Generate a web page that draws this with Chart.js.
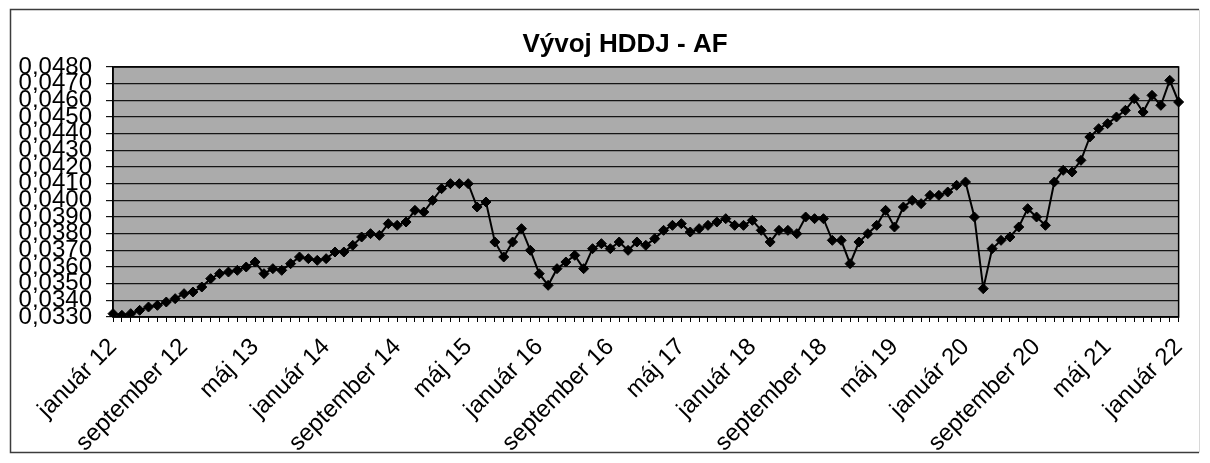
<!DOCTYPE html>
<html>
<head>
<meta charset="utf-8">
<script src="https://cdn.jsdelivr.net/npm/chart.js@4/dist/chart.umd.min.js"></script>
<style>
  html, body { margin: 0; padding: 0; background: #ffffff; }
  #wrap { width: 1210px; height: 463px; position: relative; }
</style>
</head>
<body>
<div id="wrap"><canvas id="c" width="1210" height="463"></canvas></div>
<script>
// ---- data ----
const chartTitle = 'Vývoj HDDJ - AF';
const monthNames = ['január','február','marec','apríl','máj','jún','júl','august','september','október','november','december'];
const years = ['12','13','14','15','16','17','18','19','20','21','22'];
const tickLabels = ['január 12','september 12','máj 13','január 14','september 14','máj 15','január 16','september 16','máj 17','január 18','september 18','máj 19','január 20','september 20','máj 21','január 22'];
const yTickValues = [0.0330,0.0340,0.0350,0.0360,0.0370,0.0380,0.0390,0.0400,0.0410,0.0420,0.0430,0.0440,0.0450,0.0460,0.0470,0.0480];

// monthly values, január 12 – január 22
const values2012 = [0.0332,0.0331,0.0332,0.0334,0.0336,0.0337,0.0339,0.0341,0.0344,0.0345,0.0348,0.0353];
const values2013 = [0.0356,0.0357,0.0358,0.0360,0.0363,0.0356,0.0359,0.0358,0.0362,0.0366,0.0365,0.0364];
const values2014 = [0.0365,0.0369,0.0369,0.0373,0.0378,0.0380,0.0379,0.0386,0.0385,0.0387,0.0394,0.0393];
const values2015 = [0.0400,0.0407,0.0410,0.0410,0.0410,0.0396,0.0399,0.0375,0.0366,0.0375,0.0383,0.0370];
const values2016 = [0.0356,0.0349,0.0359,0.0363,0.0367,0.0359,0.0371,0.0374,0.0371,0.0375,0.0370,0.0375];
const values2017 = [0.0373,0.0377,0.0382,0.0385,0.0386,0.0381,0.0383,0.0385,0.0387,0.0389,0.0385,0.0385];
const values2018 = [0.0388,0.0382,0.0375,0.0382,0.0382,0.0380,0.0390,0.0389,0.0389,0.0376,0.0376,0.0362];
const values2019 = [0.0375,0.0380,0.0385,0.0394,0.0384,0.0396,0.0400,0.0398,0.0403,0.0403,0.0405,0.0409];
const values2020 = [0.0411,0.0390,0.0347,0.0371,0.0376,0.0378,0.0384,0.0395,0.0390,0.0385,0.0411,0.0418];
const values2021 = [0.0417,0.0424,0.0438,0.0443,0.0446,0.0450,0.0454,0.0461,0.0453,0.0463,0.0457,0.0472];
const values2022 = [0.0459];

const values = [].concat(values2012, values2013, values2014, values2015, values2016,
  values2017, values2018, values2019, values2020, values2021, values2022);

const categories = [];
years.forEach(y => monthNames.forEach(m => categories.push(m + ' ' + y)));
categories.length = values.length;

// ---- drawing helpers ----
const FONT = '"Liberation Sans", Arial, Helvetica, sans-serif';

const framePlugin = {
  id: 'frame',
  beforeDraw(chart) {
    const ctx = chart.ctx;
    const a = chart.chartArea;
    ctx.save();
    ctx.fillStyle = '#ffffff';
    ctx.fillRect(0, 0, chart.width, chart.height);
    // outer chart frame
    ctx.strokeStyle = '#3c3c3c';
    ctx.lineWidth = 1.5;
    ctx.beginPath();
    ctx.moveTo(1199, 9.5); ctx.lineTo(10.5, 9.5); ctx.lineTo(10.5, 452.5); ctx.lineTo(1199, 452.5);
    ctx.stroke();
    ctx.strokeStyle = '#d8d8d8';
    ctx.lineWidth = 1;
    ctx.beginPath();
    ctx.moveTo(1199.5, 9.5); ctx.lineTo(1199.5, 452.5);
    ctx.stroke();
    // plot area fill
    ctx.fillStyle = '#ababab';
    ctx.fillRect(a.left, a.top, a.right - a.left, a.bottom - a.top);
    // title
    ctx.fillStyle = '#000000';
    ctx.font = 'bold 26px ' + FONT;
    ctx.textAlign = 'center';
    ctx.textBaseline = 'middle';
    ctx.fillText(chartTitle, 625, 45);
    ctx.restore();
  },
  afterDatasetsDraw(chart) {
    const ctx = chart.ctx;
    const a = chart.chartArea;
    ctx.save();
    ctx.strokeStyle = '#000000';
    ctx.lineWidth = 1.5;
    ctx.strokeRect(a.left, a.top, a.right - a.left, a.bottom - a.top);
    ctx.restore();
  }
};

new Chart(document.getElementById('c'), {
  type: 'line',
  data: {
    labels: categories,
    datasets: [{
      data: values,
      borderColor: '#000000',
      borderWidth: 2,
      backgroundColor: '#000000',
      pointStyle: 'rectRot',
      pointRadius: 5,
      pointBorderWidth: 1,
      pointBorderColor: '#000000',
      pointBackgroundColor: '#000000',
      tension: 0,
      fill: false
    }]
  },
  options: {
    responsive: false,
    animation: false,
    devicePixelRatio: 1,
    layout: { padding: { top: 67, right: 19, bottom: 0, left: 0 } },
    plugins: {
      legend: { display: false },
      title: { display: false },
      tooltip: { enabled: false }
    },
    scales: {
      x: {
        type: 'category',
        offset: false,
        afterFit(scale) { scale.height = 146; },
        border: { display: true, color: '#000000', width: 1.5 },
        grid: { display: true, drawOnChartArea: false, drawTicks: true, tickLength: 5, color: '#000000', lineWidth: 1 },
        ticks: {
          autoSkip: false,
          maxRotation: 45,
          minRotation: 45,
          padding: 11,
          color: '#000000',
          font: { family: FONT, size: 24 },
          callback(val, idx) {
            const lab = categories[idx];
            return tickLabels.includes(lab) ? lab : '';
          }
        }
      },
      y: {
        type: 'linear',
        min: 0.033,
        max: 0.048,
        afterFit(scale) { scale.width = 113; },
        afterBuildTicks(scale) { scale.ticks = yTickValues.map(v => ({ value: v })); },
        border: { display: true, color: '#000000', width: 1.5 },
        grid: { display: true, drawOnChartArea: true, drawTicks: true, tickLength: 7, color: '#151515', lineWidth: 1.2 },
        ticks: {
          autoSkip: false,
          padding: 14,
          color: '#000000',
          font: { family: FONT, size: 24 },
          callback(v) { return v.toFixed(4).replace('.', ','); }
        }
      }
    }
  },
  plugins: [framePlugin]
});
</script>
</body>
</html>
